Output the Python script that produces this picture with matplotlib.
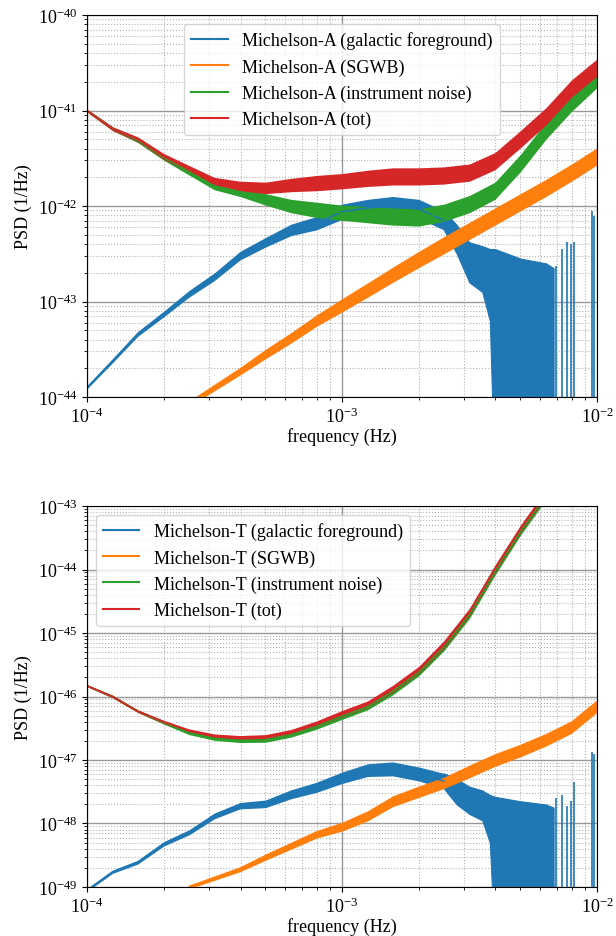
import numpy as np
import matplotlib
matplotlib.use("Agg")
import matplotlib.pyplot as plt
from matplotlib.lines import Line2D

plt.rcParams['font.family'] = ['Liberation Serif', 'DejaVu Serif']
plt.rcParams['mathtext.fontset'] = 'stix'
plt.rcParams['font.size'] = 13

# ---------------- data (log10 of PSD) ----------------
freq = [1.00e-4, 1.26e-4, 1.58e-4, 2.00e-4, 2.51e-4, 3.16e-4, 3.98e-4, 5.01e-4,
        6.31e-4, 7.94e-4, 1.00e-3, 1.26e-3, 1.58e-3, 2.00e-3, 2.51e-3, 3.16e-3,
        3.98e-3, 5.01e-3, 6.31e-3, 7.94e-3, 1.00e-2]

# ---- Michelson-A ----
totA_log = [-41.00, -41.19, -41.30, -41.48, -41.61, -41.74, -41.79, -41.81, -41.78, -41.76,
            -41.74, -41.71, -41.69, -41.69, -41.68, -41.65, -41.53, -41.30, -41.06, -40.77, -40.55]
totA_spread = [0.015, 0.02, 0.025, 0.03, 0.035, 0.04, 0.05, 0.06, 0.07, 0.08,
               0.08, 0.085, 0.09, 0.09, 0.09, 0.09, 0.09, 0.09, 0.09, 0.09, 0.09]
insA_log = [-41.00, -41.19, -41.31, -41.49, -41.64, -41.79, -41.85, -41.93, -42.00, -42.04,
            -42.07, -42.09, -42.11, -42.12, -42.07, -41.98, -41.84, -41.55, -41.21, -40.92, -40.67]
insA_spread = totA_spread
sgwbA_freq = [2.51e-4, 3.16e-4, 3.98e-4, 5.01e-4, 6.31e-4, 7.94e-4, 1.00e-3, 1.26e-3, 1.58e-3,
              2.00e-3, 2.51e-3, 3.16e-3, 3.98e-3, 5.01e-3, 6.31e-3, 7.94e-3, 1.00e-2]
sgwbA_log = [-44.07, -43.90, -43.73, -43.55, -43.38, -43.20, -43.04, -42.88, -42.72,
             -42.56, -42.41, -42.26, -42.11, -41.96, -41.81, -41.65, -41.48]
sgwbA_spread = [0.03, 0.035, 0.04, 0.05, 0.055, 0.06, 0.07, 0.075, 0.08,
                0.085, 0.09, 0.09, 0.09, 0.09, 0.09, 0.09, 0.09]
galA_freq = freq[:15]
galA_log = [-43.90, -43.62, -43.34, -43.13, -42.92, -42.74, -42.52, -42.38, -42.25, -42.18,
            -42.06, -42.02, -42.00, -42.03, -42.15]
galA_spread = [0.015, 0.02, 0.025, 0.03, 0.035, 0.04, 0.045, 0.05, 0.06, 0.07,
               0.08, 0.09, 0.10, 0.10, 0.10]
galA_drop_freq = [2.51e-3, 2.82e-3, 3.16e-3, 3.55e-3, 3.80e-3, 3.98e-3, 5.01e-3, 6.31e-3, 6.76e-3]
galA_drop_hi = [-42.05, -42.20, -42.38, -42.42, -42.45, -42.45, -42.55, -42.60, -42.65]
galA_drop_lo = [-42.25, -42.50, -42.80, -42.90, -43.20, -45.00, -45.00, -45.00, -45.00]
galA_spike_freq = [6.9e-3, 7.3e-3, 7.6e-3, 7.9e-3, 8.1e-3, 9.6e-3, 9.75e-3]
galA_spike_log = [-42.63, -42.45, -42.38, -42.40, -42.38, -42.05, -42.10]

# ---- Michelson-T ----
totT_freq = freq[:19]
totT_log = [-45.83, -46.00, -46.23, -46.40, -46.54, -46.62, -46.65, -46.64, -46.56, -46.43,
            -46.27, -46.12, -45.88, -45.58, -45.18, -44.67, -43.99, -43.36, -42.80]
totT_spread = [0.015, 0.02, 0.02, 0.025, 0.03, 0.03, 0.035, 0.04, 0.04, 0.045,
               0.05, 0.05, 0.055, 0.055, 0.06, 0.06, 0.06, 0.06, 0.06]
insT_log = [-45.83, -46.00, -46.23, -46.41, -46.57, -46.66, -46.69, -46.68, -46.60, -46.47,
            -46.31, -46.16, -45.92, -45.62, -45.22, -44.71, -44.03, -43.40, -42.84]
insT_spread = totT_spread
sgwbT_freq = [2.51e-4, 3.16e-4, 3.98e-4, 5.01e-4, 6.31e-4, 7.94e-4, 1.00e-3, 1.26e-3, 1.58e-3,
              2.00e-3, 2.51e-3, 3.16e-3, 3.98e-3, 5.01e-3, 6.31e-3, 7.94e-3, 1.00e-2]
sgwbT_log = [-49.00, -48.86, -48.72, -48.53, -48.35, -48.17, -48.05, -47.88, -47.65,
             -47.50, -47.36, -47.18, -47.00, -46.85, -46.68, -46.48, -46.15]
sgwbT_spread = [0.03, 0.035, 0.04, 0.05, 0.055, 0.06, 0.07, 0.08, 0.085,
                0.09, 0.09, 0.10, 0.10, 0.10, 0.10, 0.10, 0.10]
galT_freq = freq[:15]
galT_log = [-49.05, -48.76, -48.61, -48.32, -48.14, -47.88, -47.72, -47.69, -47.54, -47.43,
            -47.28, -47.16, -47.14, -47.22, -47.33]
galT_spread = [0.02, 0.025, 0.03, 0.035, 0.04, 0.045, 0.05, 0.06, 0.07, 0.08,
               0.09, 0.10, 0.11, 0.11, 0.12]
galT_drop_freq = [2.51e-3, 2.82e-3, 3.16e-3, 3.55e-3, 3.80e-3, 3.98e-3, 5.01e-3, 6.31e-3, 6.76e-3]
galT_drop_hi = [-47.21, -47.30, -47.42, -47.48, -47.55, -47.58, -47.65, -47.70, -47.75]
galT_drop_lo = [-47.45, -47.70, -47.85, -47.95, -48.30, -50.00, -50.00, -50.00, -50.00]
galT_spike_freq = [6.9e-3, 7.3e-3, 7.6e-3, 7.9e-3, 8.1e-3, 9.6e-3, 9.75e-3]
galT_spike_log = [-47.60, -47.55, -47.72, -47.65, -47.35, -46.87, -46.90]

C_BLUE, C_ORANGE, C_GREEN, C_RED = '#1f77b4', '#ff7f0e', '#2ca02c', '#d62728'


def band(ax, f, logv, spread, color, lw=1.1):
    f = np.asarray(f)
    c = np.asarray(logv)
    s = np.asarray(spread)
    ax.fill_between(f, 10 ** (c - s), 10 ** (c + s), color=color, lw=0)
    ax.plot(f, 10 ** c, color=color, lw=lw)


def drop(ax, f, lo, hi, color):
    ax.fill_between(np.asarray(f), 10 ** np.asarray(lo), 10 ** np.asarray(hi),
                    color=color, lw=0.8, edgecolor=color)


def style(ax, ylim, name, loc):
    ax.set_xscale('log')
    ax.set_yscale('log')
    ax.set_xlim(1e-4, 1e-2)
    ax.set_ylim(*ylim)
    ax.grid(True, which='major', ls='-', color='0.6', lw=1.0)
    ax.grid(True, which='minor', ls=':', color='0.7', lw=0.8)
    ax.set_axisbelow(True)
    ax.set_xlabel('frequency (Hz)', labelpad=1)
    ax.set_ylabel('PSD (1/Hz)')
    handles = [Line2D([], [], color=c, lw=1.5) for c in (C_BLUE, C_ORANGE, C_GREEN, C_RED)]
    labels = [f'{name} (galactic foreground)', f'{name} (SGWB)',
              f'{name} (instrument noise)', f'{name} (tot)']
    ax.legend(handles, labels, loc=loc, fontsize=13, framealpha=0.8)


fig = plt.figure(figsize=(6.16, 9.37), dpi=100)
ax1 = fig.add_axes([0.1412, 0.5752, 0.8279, 0.4077])
ax2 = fig.add_axes([0.1412, 0.0523, 0.8279, 0.4066])

# top panel
band(ax1, galA_freq, galA_log, galA_spread, C_BLUE)
drop(ax1, galA_drop_freq, galA_drop_lo, galA_drop_hi, C_BLUE)
ax1.vlines(galA_spike_freq, 1e-46, 10 ** np.asarray(galA_spike_log), color=C_BLUE, lw=1.2)
band(ax1, sgwbA_freq, sgwbA_log, sgwbA_spread, C_ORANGE)
band(ax1, freq, insA_log, insA_spread, C_GREEN)
band(ax1, freq, totA_log, totA_spread, C_RED)
style(ax1, (1e-44, 1e-40), 'Michelson-A', 'upper center')

# bottom panel
band(ax2, galT_freq, galT_log, galT_spread, C_BLUE)
drop(ax2, galT_drop_freq, galT_drop_lo, galT_drop_hi, C_BLUE)
ax2.vlines(galT_spike_freq, 1e-51, 10 ** np.asarray(galT_spike_log), color=C_BLUE, lw=1.2)
band(ax2, sgwbT_freq, sgwbT_log, sgwbT_spread, C_ORANGE)
band(ax2, totT_freq, insT_log, insT_spread, C_GREEN)
band(ax2, totT_freq, totT_log, totT_spread, C_RED)
style(ax2, (1e-49, 1e-43), 'Michelson-T', 'upper left')

fig.savefig('out.png', dpi=100)
